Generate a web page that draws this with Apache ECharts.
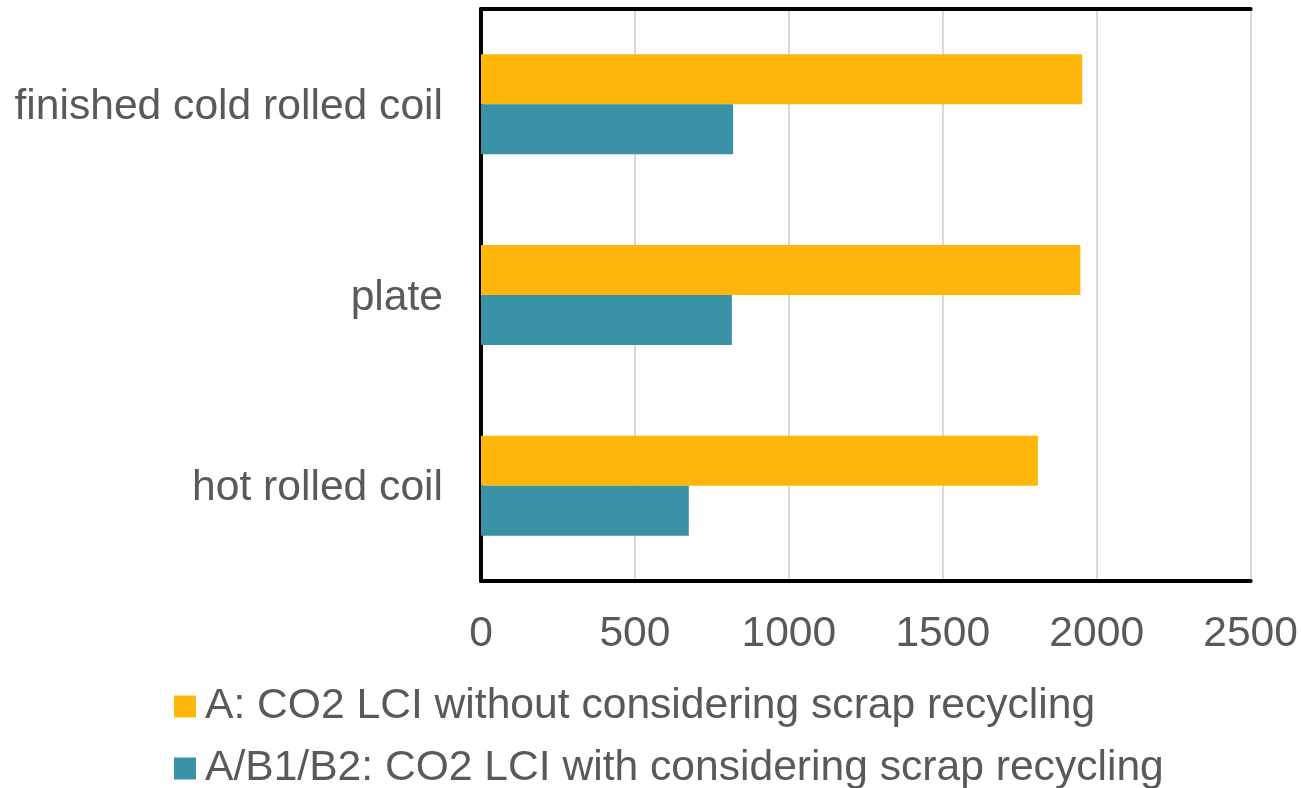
<!DOCTYPE html>
<html>
<head>
<meta charset="utf-8">
<script src="https://cdn.jsdelivr.net/npm/echarts@6/dist/echarts.min.js"></script>
<style>
  html, body { margin: 0; padding: 0; background: #fff; }
  #chart { width: 1301px; height: 788px; }
</style>
</head>
<body>
<div id="chart"></div>
<script>
// Product categories, listed from the bottom of the axis upward
const categories = ['hot rolled coil', 'plate', 'finished cold rolled coil'];

// CO2 LCI values per product
const withoutRecycling = [1809, 1947, 1953];
const withRecycling = [675, 815, 819];

const seriesNames = [
  'A: CO2 LCI without considering scrap recycling',
  'A/B1/B2: CO2 LCI with considering scrap recycling'
];

const xTicks = { min: 0, max: 2500, interval: 500 };

const textColor = '#595959';
const fontFamily = '"Liberation Sans", Arial, sans-serif';
const fontSize = 42.6;

function legendFor(name, top) {
  return {
    orient: 'vertical',
    left: 174,
    top: top,
    padding: 0,
    itemWidth: 22,
    itemHeight: 22,
    itemGap: 0,
    icon: 'rect',
    data: [name],
    textStyle: { color: textColor, fontSize: fontSize, fontFamily: fontFamily, padding: [0, 0, 0, 4] }
  };
}

const chart = echarts.init(document.getElementById('chart'));
chart.setOption({
  animation: false,
  textStyle: { fontFamily: fontFamily },
  grid: { left: 481, right: 50, top: 9, bottom: 207, containLabel: false },
  legend: [legendFor(seriesNames[0], 685), legendFor(seriesNames[1], 747)],
  xAxis: [
    {
      type: 'value',
      position: 'bottom',
      min: xTicks.min, max: xTicks.max, interval: xTicks.interval,
      axisLine: { show: true, lineStyle: { color: '#000', width: 4 } },
      axisTick: { show: false },
      axisLabel: { color: textColor, fontSize: fontSize, margin: 32, fontFamily: fontFamily,
        formatter: v => String(v) },
      splitLine: { show: true, lineStyle: { color: '#d9d9d9', width: 2 } }
    },
    {
      type: 'value',
      position: 'top',
      min: xTicks.min, max: xTicks.max, interval: xTicks.interval,
      axisLine: { show: true, lineStyle: { color: '#000', width: 4 } },
      axisTick: { show: false },
      axisLabel: { show: false },
      splitLine: { show: false }
    }
  ],
  yAxis: [
    {
      type: 'category',
      position: 'left',
      data: categories,
      axisLine: { show: true, lineStyle: { color: '#404040', width: 2 } },
      axisTick: { show: false },
      axisLabel: {
        margin: 38,
        formatter: v => '{cat|' + v + '}',
        rich: {
          cat: { color: textColor, fontSize: fontSize, fontFamily: fontFamily, padding: [6, 0, 0, 0] }
        }
      },
      splitLine: { show: false }
    },
    {
      type: 'category',
      position: 'right',
      data: categories,
      axisLine: { show: true, lineStyle: { color: '#000', width: 4 } },
      axisTick: { show: false },
      axisLabel: { show: false },
      splitLine: { show: false }
    }
  ],
  series: [
    {
      name: seriesNames[0],
      type: 'bar',
      xAxisIndex: 0,
      yAxisIndex: 0,
      data: withoutRecycling,
      barWidth: 50,
      barGap: '0%',
      itemStyle: { color: '#FFB60B' }
    },
    {
      name: seriesNames[1],
      type: 'bar',
      xAxisIndex: 0,
      yAxisIndex: 0,
      data: withRecycling,
      barWidth: 50,
      barGap: '0%',
      itemStyle: { color: '#3A92A7' }
    }
  ]
});
</script>
</body>
</html>
